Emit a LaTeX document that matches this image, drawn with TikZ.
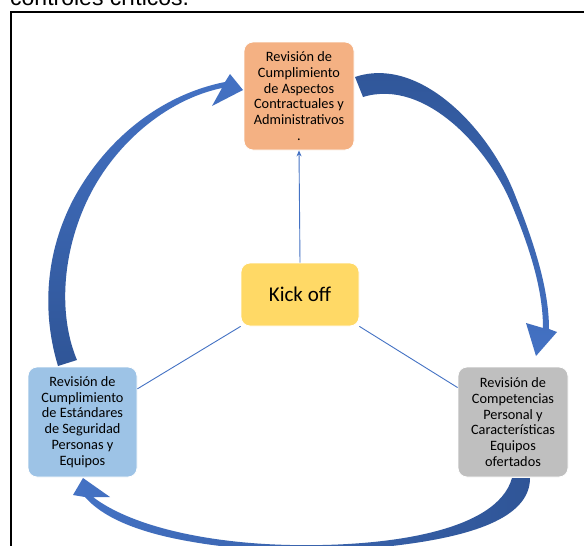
\documentclass[tikz,border=0pt]{standalone}
\usepackage{fontspec}
\setmainfont{Carlito}
\newfontfamily\headfont{Liberation Sans}
\usetikzlibrary{arrows.meta}

\definecolor{boxorange}{HTML}{F4B183}
\definecolor{boxyellow}{HTML}{FFD966}
\definecolor{boxblue}{HTML}{9DC3E6}
\definecolor{boxgray}{HTML}{BFBFBF}
\definecolor{linkblue}{HTML}{4472C4}
\definecolor{arrowdark}{HTML}{2F5597}
\definecolor{arrowlight}{HTML}{4472C4}

\tikzset{
  stagebox/.style={rectangle, rounded corners=9pt, draw=white, line width=0.8pt,
    align=center, text=black, inner sep=2pt,
    font=\fontsize{14.3}{15.8}\selectfont},
  link/.style={draw=linkblue, line width=0.9pt},
}

\begin{document}
\begin{tikzpicture}[x=1pt, y=-1pt]
  \useasboundingbox (0,0) rectangle (584,546);
  \clip (0,0) rectangle (584,546);
  \fill[white] (0,0) rectangle (584,546);

  % caption line above the frame (only its lower part shows)
  \node[anchor=base west, inner sep=0pt, font=\headfont\fontsize{23}{23}\selectfont]
    (caption) at (10,5.5) {controles críticos.};

  % frame
  \draw[line width=2pt] (11,570) -- (11,12) -- (600,12);

  % stages
  \node[stagebox, fill=boxorange, minimum width=110pt, minimum height=108pt]
    (contract) at (299,96) {Revisión de\\Cumplimiento\\de Aspectos\\Contractuales y\\Administrativos\\.};
  \node[stagebox, fill=boxyellow, minimum width=118pt, minimum height=63pt,
    font=\fontsize{21}{24}\selectfont]
    (kick) at (300,294.5) {Kick off};
  \node[stagebox, fill=boxblue, minimum width=109pt, minimum height=110pt]
    (safety) at (82.5,422) {Revisión de\\Cumplimiento\\de Estándares\\de Seguridad\\Personas y\\Equipos};
  \node[stagebox, fill=boxgray, minimum width=110pt, minimum height=110pt]
    (staff) at (513,422) {Revisión de\\Competencias\\Personal y\\Características\\Equipos\\ofertados};

  % links from the kick off
  \draw[link, -{Stealth[length=6pt, width=5pt]}] (kick.north) -- (contract.south);
  \draw[link] (kick.south west) -- (safety);
  \draw[link] (kick.south east) -- (staff);

  % cycle arrows: safety -> contract
  \shade[bottom color=arrowdark, top color=arrowlight]
    (58,366) .. controls (44,320) and (42,260) .. (73,200)
             .. controls (105,140) and (160,95) .. (225,82)
    -- (230,74) -- (243,90) -- (212,106) -- (222,88)
    .. controls (165,100) and (112,146) .. (86,203)
    .. controls (60,260) and (60,320) .. (77,360) -- cycle;

  % contract -> staff
  \shade[top color=arrowdark, bottom color=arrowlight]
    (355,77) .. controls (420,55) and (490,130) .. (515,195)
             .. controls (535,245) and (549,290) .. (549,329)
    -- (557,332) -- (536,356) -- (526,323) -- (543,328)
    .. controls (543,290) and (530,248) .. (511,203)
    .. controls (488,148) and (425,78) .. (363,97) -- cycle;

  % staff -> safety
  \shade[left color=arrowlight, right color=arrowdark]
    (530,478) .. controls (530,515) and (480,535) .. (400,545)
              .. controls (330,554) and (250,552) .. (193,542)
              .. controls (145,534) and (105,520) .. (85,497)
    -- (73,495) -- (83,478) -- (110,497) -- (93,497)
    .. controls (128,524) and (200,543) .. (290,545)
    .. controls (385,547) and (497,532) .. (512,478) -- cycle;
\end{tikzpicture}
\end{document}
